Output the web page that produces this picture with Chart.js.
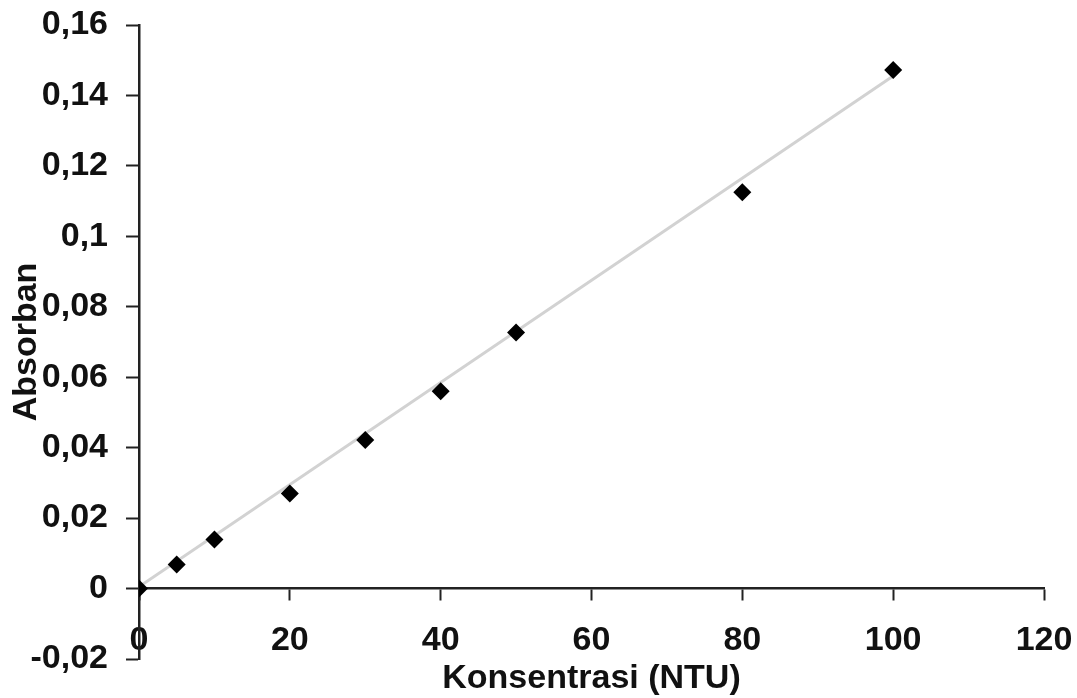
<!DOCTYPE html>
<html>
<head>
<meta charset="utf-8">
<script src="https://cdn.jsdelivr.net/npm/chart.js@4.4.1/dist/chart.umd.min.js"></script>
<style>
  body { margin: 0; background: #fff; }
  #chart { display: block; }
</style>
</head>
<body>
<canvas id="chart" width="1077" height="698"></canvas>
<script>
// data
const konsentrasi = [0, 5, 10, 20, 30, 40, 50, 80, 100];
const absorban = [0, 0.0068, 0.0139, 0.027, 0.0422, 0.056, 0.0727, 0.1125, 0.1472];

// linear trend line ends
const trendX = [0, 100];
const trendY = [0.0005, 0.1455];

const xTickValues = [0, 20, 40, 60, 80, 100, 120];
const yTickValues = [-0.02, 0, 0.02, 0.04, 0.06, 0.08, 0.1, 0.12, 0.14, 0.16];
const yTickLabels = ["-0,02", "0", "0,02", "0,04", "0,06", "0,08", "0,1", "0,12", "0,14", "0,16"];

const fontFamily = "'Liberation Sans', Arial, sans-serif";
const axisColor = "#222";
const textColor = "#111";

const points = konsentrasi.map((x, i) => ({ x: x, y: absorban[i] }));
const trend = trendX.map((x, i) => ({ x: x, y: trendY[i] }));

const ctx = document.getElementById("chart").getContext("2d");
const chart = new Chart(ctx, {
  type: "scatter",
  data: {
    datasets: [
      {
        label: "Absorban",
        data: points,
        pointStyle: "rectRot",
        pointRadius: 9,
        backgroundColor: "#000",
        borderColor: "#000",
        borderWidth: 0,
        order: 0,
      },
      {
        label: "Linear",
        data: trend,
        showLine: true,
        borderColor: "#d2d2d2",
        borderWidth: 3,
        pointRadius: 0,
        order: 1,
      },
    ],
  },
  options: {
    responsive: false,
    animation: false,
    devicePixelRatio: 1,
    layout: { padding: { top: 25, right: 33, bottom: 39, left: 0 } },
    plugins: {
      legend: { display: false },
      tooltip: { enabled: false },
    },
    scales: {
      x: {
        type: "linear",
        min: 0,
        max: 120,
        position: { y: 0 },
        afterBuildTicks: (s) => {
          s.ticks = xTickValues.map((v) => ({ value: v }));
        },
        afterFit: (s) => {
          s.height = 110;
          // labels may hang past the plot edges, as in the original
          s.paddingLeft = 0;
          s.paddingRight = 0;
        },
        grid: {
          drawOnChartArea: false,
          drawTicks: true,
          tickLength: 11,
          tickWidth: 2,
          color: axisColor,
        },
        border: { color: axisColor, width: 2.5 },
        ticks: {
          color: textColor,
          font: { family: fontFamily, size: 34, weight: "bold" },
          padding: 21,
          maxRotation: 0,
          autoSkip: false,
        },
        title: {
          display: true,
          text: "Konsentrasi (NTU)",
          color: textColor,
          font: { family: fontFamily, size: 34, weight: "bold" },
          padding: 0,
        },
      },
      y: {
        type: "linear",
        min: -0.02,
        max: 0.16,
        position: "left",
        afterBuildTicks: (s) => {
          s.ticks = yTickValues.map((v) => ({ value: v }));
        },
        afterFit: (s) => {
          s.width = 139;
          s.paddingTop = 0;
          s.paddingBottom = 0;
        },
        grid: {
          drawOnChartArea: false,
          drawTicks: true,
          tickLength: 13,
          tickWidth: 2,
          color: axisColor,
        },
        border: { color: axisColor, width: 2.5 },
        ticks: {
          color: textColor,
          font: { family: fontFamily, size: 34, weight: "bold" },
          padding: 18,
          autoSkip: false,
          callback: (value, index) => yTickLabels[index],
        },
        title: {
          display: true,
          text: "Absorban",
          color: textColor,
          font: { family: fontFamily, size: 34, weight: "bold" },
          padding: { top: 6, bottom: 0 },
        },
      },
    },
  },
});
</script>
</body>
</html>
